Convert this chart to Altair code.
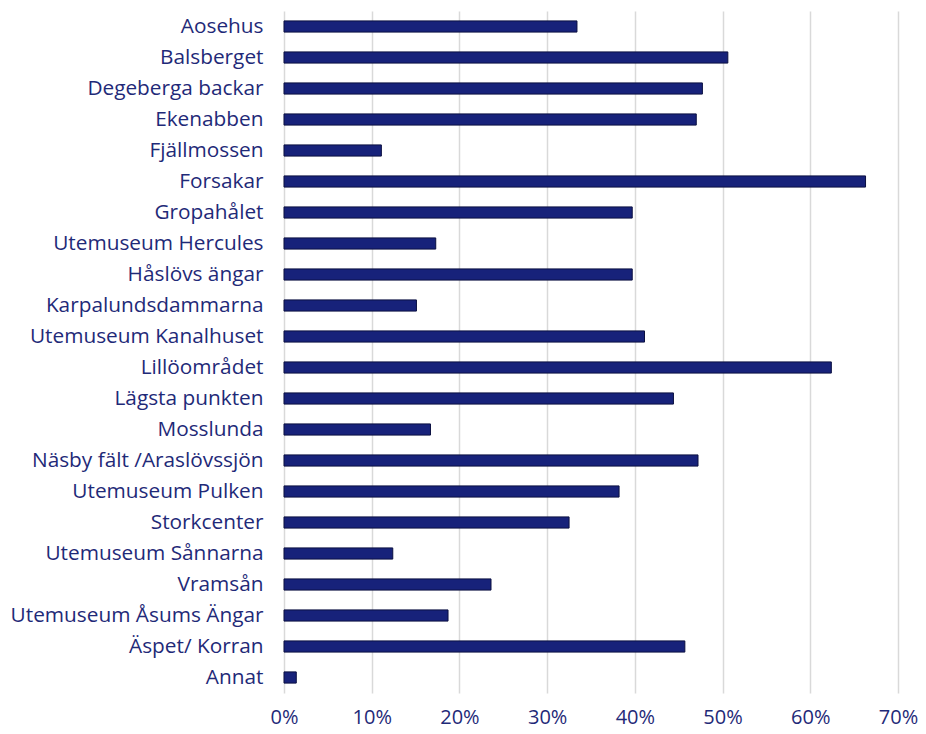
import altair as alt
import pandas as pd

categories = [
    "Aosehus", "Balsberget", "Degeberga backar", "Ekenabben", "Fjällmossen",
    "Forsakar", "Gropahålet", "Utemuseum Hercules", "Håslövs ängar",
    "Karpalundsdammarna", "Utemuseum Kanalhuset", "Lillöområdet",
    "Lägsta punkten", "Mosslunda", "Näsby fält /Araslövssjön",
    "Utemuseum Pulken", "Storkcenter", "Utemuseum Sånnarna", "Vramsån",
    "Utemuseum Åsums Ängar", "Äspet/ Korran", "Annat",
]
values = [
    0.334, 0.506, 0.477, 0.470, 0.111,
    0.663, 0.397, 0.173, 0.397,
    0.151, 0.411, 0.624,
    0.444, 0.167, 0.472,
    0.382, 0.325, 0.124, 0.236,
    0.187, 0.457, 0.014,
]
x_ticks = [0, 0.1, 0.2, 0.3, 0.4, 0.5, 0.6, 0.7]

df = pd.DataFrame({"plats": categories, "andel": values})

text_color = "#1f2a78"
font = "Open Sans"

chart = (
    alt.Chart(df)
    .mark_bar(fill="#17227a", stroke="#0a0f40", strokeWidth=1)
    .encode(
        y=alt.Y(
            "plats:N",
            sort=None,
            title=None,
            scale=alt.Scale(paddingInner=0.64, paddingOuter=0.32),
            axis=alt.Axis(
                domain=False,
                ticks=False,
                grid=False,
                labelFont=font,
                labelFontSize=20.8,
                labelColor=text_color,
                labelPadding=21,
                labelLimit=400,
            ),
        ),
        x=alt.X(
            "andel:Q",
            title=None,
            scale=alt.Scale(domain=[0, 0.7], nice=False),
            axis=alt.Axis(
                values=x_ticks,
                format=".0%",
                domain=False,
                ticks=False,
                grid=True,
                gridColor="#d9d9d9",
                gridWidth=1.5,
                labelFont=font,
                labelFontSize=20,
                labelColor=text_color,
                labelPadding=14,
                labelFlush=False,
            ),
        ),
    )
    .properties(
        width=614,
        height=682,
        autosize=alt.AutoSizeParams(type="none"),
        padding={"left": 276, "top": 3, "right": 20, "bottom": 42},
    )
    .configure_view(stroke=None)
)

chart.save("out.html", embed_options={"renderer": "svg", "actions": False})
